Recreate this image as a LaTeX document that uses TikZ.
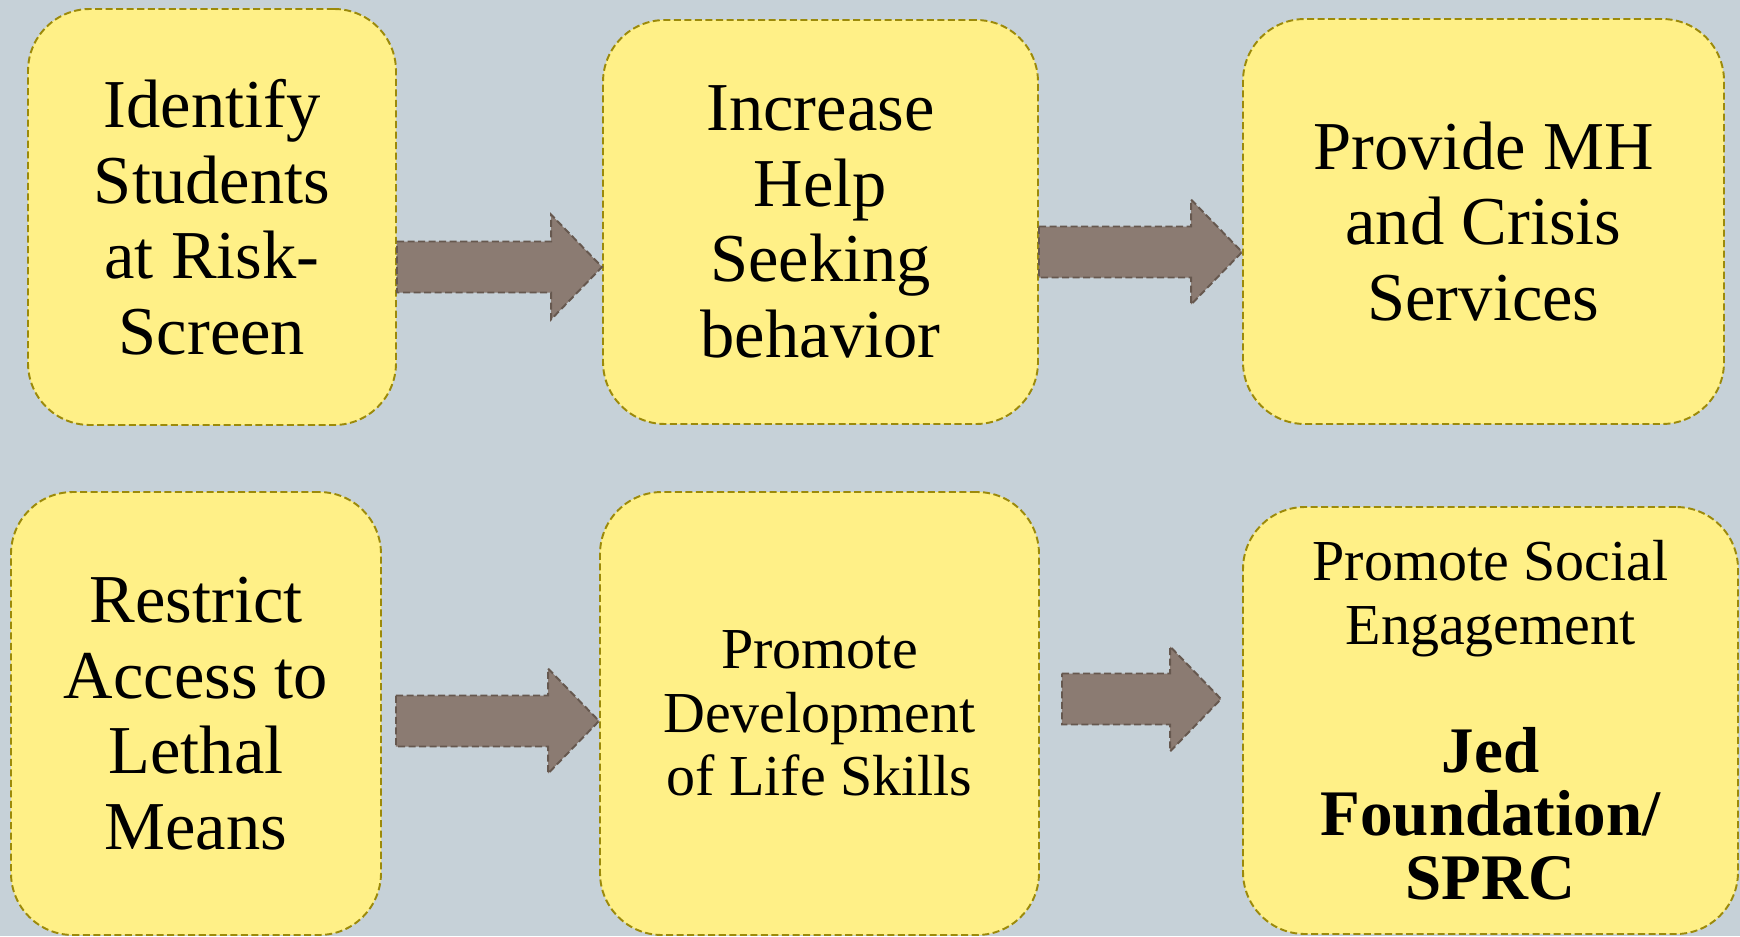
\documentclass[tikz,border=0pt]{standalone}
\usepackage{fontspec}
\setmainfont{Liberation Serif}
\usetikzlibrary{calc}
\definecolor{pagebg}{HTML}{C6D1D8}
\definecolor{stepbg}{HTML}{FFF087}
\definecolor{stepborder}{HTML}{9C8A0A}
\definecolor{arrowbg}{HTML}{8B7B72}
\definecolor{arrowborder}{HTML}{66584F}
\newlength\px
\setlength\px{0.02cm}
% block arrow from #1 (tail middle) to #2 (tip)
\newcommand{\blockarrow}[2]{%
  \draw[bigarrow] ($(#1)+(0,-25.5)$) -- ($(#2)+(-51,-25.5)$)
    -- ($(#2)+(-51,-52.5)$) -- (#2) -- ($(#2)+(-51,52.5)$)
    -- ($(#2)+(-51,25.5)$) -- ($(#1)+(0,25.5)$) -- cycle;}

\begin{document}
\begin{tikzpicture}[
    x=1\px, y=-1\px,
    box/.style={
        draw=stepborder, fill=stepbg, rounded corners=62\px,
        line width=1.1pt, dash pattern=on 4pt off 2pt,
        inner sep=0pt, align=center, text=black,
        font=\fontsize{39pt}{43pt}\selectfont
    },
    smalltext/.style={font=\fontsize{33pt}{36.3pt}\selectfont},
    bigarrow/.style={
        fill=arrowbg, draw=arrowborder, line width=1.1pt,
        dash pattern=on 4pt off 2pt
    },
]

% Background
\useasboundingbox (0,0) rectangle (1740,936);
\clip (0,0) rectangle (1740,936);
\fill[pagebg] (0,0) rectangle (1740,936);

% Top row
\node[box, minimum width=368\px, minimum height=416\px] (identify)
    at (212, 217)
    {Identify\\Students\\at Risk-\\Screen};

\node[box, minimum width=435\px, minimum height=404\px] (helpseek)
    at (820.5, 222)
    {Increase\\Help\\Seeking\\behavior};

\node[box, minimum width=481\px, minimum height=405\px] (services)
    at (1483.5, 221.5)
    {Provide MH\\and Crisis\\Services};

% Bottom row
\node[box, minimum width=370\px, minimum height=443\px] (lethal)
    at (196, 713.5)
    {Restrict\\Access to\\Lethal\\Means};

\node[box, smalltext, minimum width=439\px, minimum height=443\px] (lifeskills)
    at (819.5, 713.5)
    {Promote\\Development\\of Life Skills};

\node[box, smalltext, minimum width=495\px, minimum height=427\px] (social)
    at (1490.5, 720.5)
    {Promote Social\\Engagement\\[36.3pt]
     \fontsize{37pt}{36.3pt}\selectfont\bfseries Jed\\
     \fontsize{37pt}{36.3pt}\selectfont\bfseries Foundation/\\
     \fontsize{37pt}{36.3pt}\selectfont\bfseries SPRC};

% Arrows
\blockarrow{identify.east |- 0,267}{helpseek.west |- 0,267}
\blockarrow{helpseek.east |- 0,252}{services.west |- 0,252}
\blockarrow{$(lethal.east |- 0,721)+(14,0)$}{lifeskills.west |- 0,721}
\blockarrow{$(lifeskills.east |- 0,699)+(22,0)$}{$(social.west |- 0,699)+(-21,0)$}

\end{tikzpicture}
\end{document}
